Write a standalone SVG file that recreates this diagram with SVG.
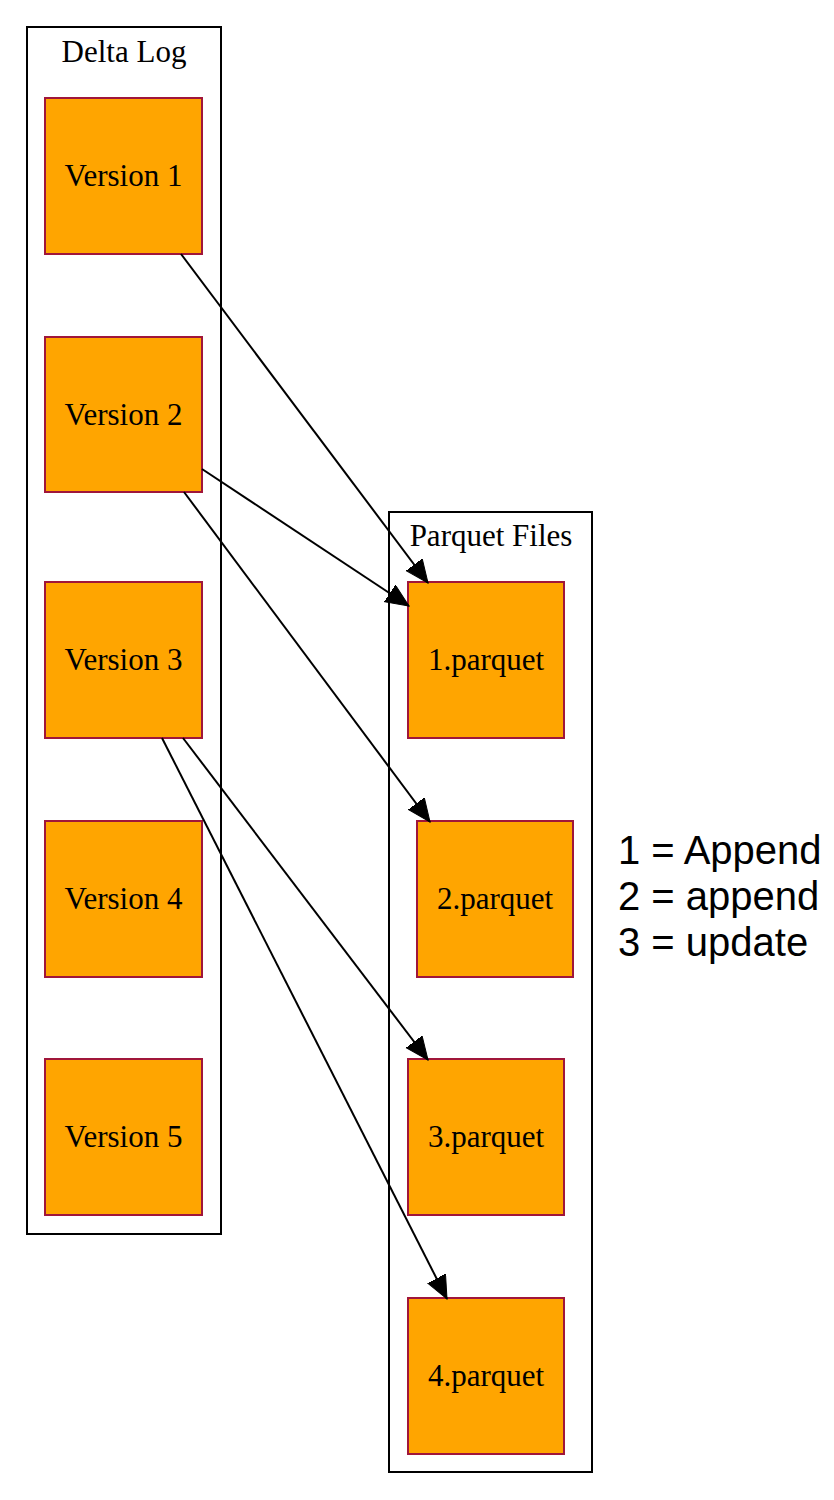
<svg xmlns="http://www.w3.org/2000/svg" width="834" height="1500" viewBox="0 0 834 1500">
<style>
.cluster{fill:none;stroke:#000;stroke-width:2}
.node rect{fill:#ffa500;stroke:#a0163a;stroke-width:2}
.lbl{font-family:"Liberation Serif","Times New Roman",serif;font-size:31px;fill:#000;text-anchor:middle}
.legend{font-family:"Liberation Sans",Arial,sans-serif;font-size:40px;fill:#000}
.edge{stroke:#000;stroke-width:2;fill:none;marker-end:url(#arrow)}
</style>
<defs>
<marker id="arrow" markerUnits="userSpaceOnUse" markerWidth="26" markerHeight="22" refX="23" refY="10" orient="auto">
<path d="M0,0 L23,10 L0,20 z" fill="#000" stroke="#000" stroke-width="1"/>
</marker>
</defs>
<rect width="834" height="1500" fill="#fff"/>
<g id="cluster_delta">
<rect class="cluster" x="27" y="27" width="194" height="1207"/>
<text class="lbl" x="124" y="62">Delta Log</text>
</g>
<g id="cluster_parquet">
<rect class="cluster" x="389" y="512" width="203" height="960"/>
<text class="lbl" x="491" y="546">Parquet Files</text>
</g>
<g id="v1" class="node"><rect x="45" y="98" width="157" height="156"/><text class="lbl" x="123.5" y="186">Version 1</text></g>
<g id="v2" class="node"><rect x="45" y="337" width="157" height="155"/><text class="lbl" x="123.5" y="425">Version 2</text></g>
<g id="v3" class="node"><rect x="45" y="582" width="157" height="156"/><text class="lbl" x="123.5" y="670">Version 3</text></g>
<g id="v4" class="node"><rect x="45" y="821" width="157" height="156"/><text class="lbl" x="123.5" y="909">Version 4</text></g>
<g id="v5" class="node"><rect x="45" y="1059" width="157" height="156"/><text class="lbl" x="123.5" y="1147">Version 5</text></g>
<g id="p1" class="node"><rect x="408" y="582" width="156" height="156"/><text class="lbl" x="486" y="670">1.parquet</text></g>
<g id="p2" class="node"><rect x="417" y="821" width="156" height="156"/><text class="lbl" x="495" y="909">2.parquet</text></g>
<g id="p3" class="node"><rect x="408" y="1059" width="156" height="156"/><text class="lbl" x="486" y="1147">3.parquet</text></g>
<g id="p4" class="node"><rect x="408" y="1298" width="156" height="156"/><text class="lbl" x="486" y="1386">4.parquet</text></g>
<g id="edges">
<line class="edge" x1="181" y1="254" x2="428" y2="583"/>
<line class="edge" x1="202" y1="469" x2="409" y2="606"/>
<line class="edge" x1="184" y1="492" x2="430" y2="822"/>
<line class="edge" x1="183" y1="738" x2="428" y2="1060"/>
<line class="edge" x1="162" y1="738" x2="447" y2="1299"/>
</g>
<g id="legend">
<text class="legend" x="618" y="864">1 = Append</text>
<text class="legend" x="618" y="910">2 = append</text>
<text class="legend" x="618" y="956">3 = update</text>
</g>
</svg>
